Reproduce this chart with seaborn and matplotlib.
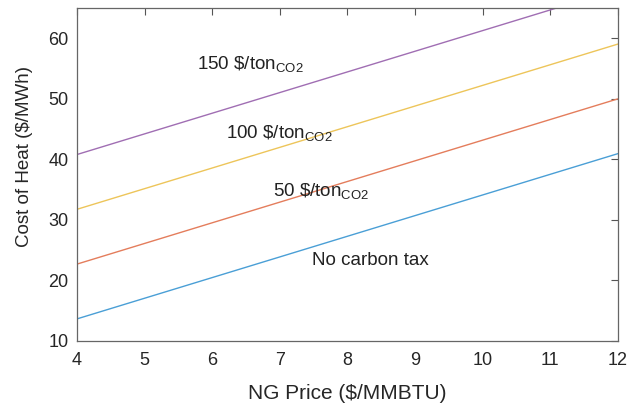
import matplotlib
matplotlib.use("Agg")
import matplotlib.pyplot as plt
import seaborn as sns
import pandas as pd

ng_price = [4, 12]
no_tax = [13.65, 40.95]
tax_50 = [22.7, 50.0]
tax_100 = [31.75, 59.05]
tax_150 = [40.8, 68.1]

series_names = ["No carbon tax", "50", "100", "150"]
series_vals = [no_tax, tax_50, tax_100, tax_150]
colors = ["#4a9fd6", "#e47d5c", "#edc55a", "#a06eb3"]

label_texts = ["No carbon tax", "50 \\$/ton$_{CO2}$", "100 \\$/ton$_{CO2}$", "150 \\$/ton$_{CO2}$"]
label_x = [7.48, 6.9, 6.2, 5.78]
label_y = [23.3, 34.7, 44.3, 55.7]

sns.set_style("white")
plt.rcParams["font.family"] = ["Liberation Sans", "DejaVu Sans"]
plt.rcParams["mathtext.default"] = "regular"

rows = []
for name, vals in zip(series_names, series_vals):
    for x, y in zip(ng_price, vals):
        rows.append({"NG": x, "Cost": y, "Series": name})
df = pd.DataFrame(rows)

fig = plt.figure(figsize=(6.29, 4.09), dpi=100)
ax = fig.add_axes([0.1224, 0.1663, 0.8601, 0.8141])
sns.lineplot(data=df, x="NG", y="Cost", hue="Series", hue_order=series_names,
             palette=colors, linewidth=1.0, legend=False, ax=ax)

for t, x, y in zip(label_texts, label_x, label_y):
    ax.text(x, y, t, fontsize=13.5, va="center", ha="left", color="#222222")

ax.set_xlim(4, 12)
ax.set_ylim(10, 65)
ax.set_xticks(range(4, 13))
ax.set_yticks([10, 20, 30, 40, 50, 60])
ax.set_xlabel("NG Price ($/MMBTU)", fontsize=15, color="#262626", labelpad=11)
ax.set_ylabel("Cost of Heat ($/MWh)", fontsize=13.5, color="#262626")
ax.yaxis.set_label_coords(-0.082, 0.555)
ax.tick_params(direction="in", length=5, width=0.8, top=True, right=True,
               labelsize=13, colors="#555555", labelcolor="#262626")
ax.tick_params(axis="x", pad=8)
ax.tick_params(axis="y", pad=6)
for s in ax.spines.values():
    s.set_color("#666666")
    s.set_linewidth(0.9)

fig.savefig("out.png", dpi=100)
